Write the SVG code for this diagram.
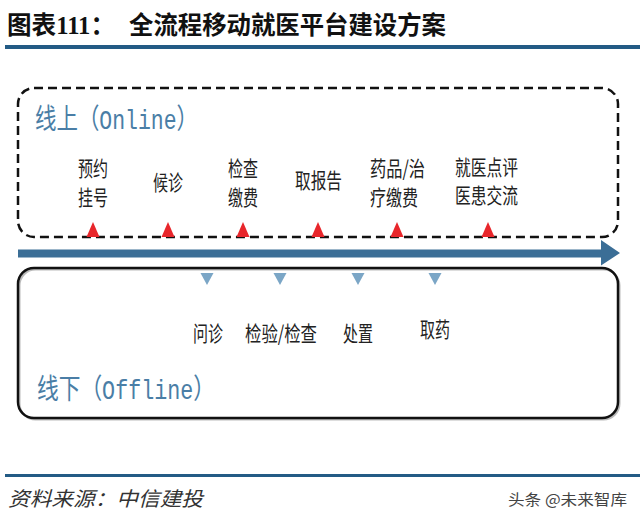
<svg xmlns="http://www.w3.org/2000/svg" width="640" height="519" viewBox="0 0 640 519">
<style>
.title{font-family:"Noto Sans CJK SC","Liberation Sans",sans-serif;font-size:25px;font-weight:bold;fill:#111}
.num{font-family:"Liberation Serif","Noto Sans CJK SC",serif;font-weight:bold}
.big{font-family:"Liberation Mono","Noto Sans CJK SC",monospace;font-size:28px;fill:#4a7ea6}
.lbl{font-family:"Noto Sans CJK SC","Liberation Sans",sans-serif;font-size:21px;fill:#222}
.src{font-family:"Noto Sans CJK SC","Liberation Sans",sans-serif;font-size:20px;font-style:italic;fill:#333}
.wm{font-family:"Noto Sans CJK SC","Liberation Sans",sans-serif;font-size:15px;fill:#444}
.up{fill:#e8262b}
.down{fill:#7ba6c6}
</style>
<rect width="640" height="519" fill="#fff"/>
<g id="header">
<text class="title" x="7" y="34" textLength="108" lengthAdjust="spacingAndGlyphs"><tspan>图表</tspan><tspan class="num">111</tspan><tspan>：</tspan></text>
<text class="title" x="129" y="34" textLength="317" lengthAdjust="spacingAndGlyphs">全流程移动就医平台建设方案</text>
<rect x="5" y="45" width="635" height="4" fill="#235b85"/>
</g>
<g id="online">
<rect x="18" y="88" width="600" height="149" rx="16" fill="none" stroke="#111" stroke-width="2.5" stroke-dasharray="9 5"/>
<text class="big" x="35" y="129" textLength="163" lengthAdjust="spacingAndGlyphs">线上（Online）</text>
</g>
<g id="offline">
<rect x="19.5" y="269.5" width="600" height="150" rx="16" fill="none" stroke="#bbb" stroke-width="2"/>
<rect x="18" y="268" width="600" height="150" rx="16" fill="none" stroke="#111" stroke-width="2.5"/>
<text class="big" x="37" y="399" textLength="178" lengthAdjust="spacingAndGlyphs">线下（Offline）</text>
</g>
<g id="connectors">
<polygon points="18,249.5 601,249.5 601,240 620,253 601,265.5 601,257.5 18,257.5" fill="#3b6e96"/>
</g>
<g id="online-steps">
<g id="step-guahao"><text class="lbl" x="78" y="176" textLength="30" lengthAdjust="spacingAndGlyphs">预约</text><text class="lbl" x="78" y="205" textLength="30" lengthAdjust="spacingAndGlyphs">挂号</text><polygon class="up" points="93,222 99.5,237 86.5,237"/></g>
<g id="step-houzhen"><text class="lbl" x="153" y="190" textLength="30" lengthAdjust="spacingAndGlyphs">候诊</text><polygon class="up" points="168,222 174.5,237 161.5,237"/></g>
<g id="step-jiaofei"><text class="lbl" x="228" y="176" textLength="30" lengthAdjust="spacingAndGlyphs">检查</text><text class="lbl" x="228" y="205" textLength="30" lengthAdjust="spacingAndGlyphs">缴费</text><polygon class="up" points="243,222 249.5,237 236.5,237"/></g>
<g id="step-baogao"><text class="lbl" x="295" y="188" textLength="47" lengthAdjust="spacingAndGlyphs">取报告</text><polygon class="up" points="318,222 324.5,237 311.5,237"/></g>
<g id="step-yaopin"><text class="lbl" x="370" y="176" textLength="55" lengthAdjust="spacingAndGlyphs">药品/治</text><text class="lbl" x="370" y="205" textLength="48" lengthAdjust="spacingAndGlyphs">疗缴费</text><polygon class="up" points="397,222 403.5,237 390.5,237"/></g>
<g id="step-dianping"><text class="lbl" x="455" y="175" textLength="63" lengthAdjust="spacingAndGlyphs">就医点评</text><text class="lbl" x="455" y="203" textLength="63" lengthAdjust="spacingAndGlyphs">医患交流</text><polygon class="up" points="488,222 494.5,237 481.5,237"/></g>
</g>
<g id="offline-steps">
<g id="step-wenzhen"><polygon class="down" points="200.5,273 213.5,273 207,285"/><text class="lbl" x="193" y="341" textLength="30" lengthAdjust="spacingAndGlyphs">问诊</text></g>
<g id="step-jianyan"><polygon class="down" points="273.5,273 286.5,273 280,285"/><text class="lbl" x="245" y="341" textLength="72" lengthAdjust="spacingAndGlyphs">检验/检查</text></g>
<g id="step-chuzhi"><polygon class="down" points="351.5,273 364.5,273 358,285"/><text class="lbl" x="343" y="341" textLength="30" lengthAdjust="spacingAndGlyphs">处置</text></g>
<g id="step-quyao"><polygon class="down" points="428.5,273 441.5,273 435,285"/><text class="lbl" x="420" y="337" textLength="30" lengthAdjust="spacingAndGlyphs">取药</text></g>
</g>
<g id="footer">
<rect x="5" y="474" width="635" height="3" fill="#235b85"/>
<text class="src" x="8" y="506" textLength="195" lengthAdjust="spacingAndGlyphs">资料来源：中信建投</text>
<text class="wm" x="508" y="505" textLength="119" lengthAdjust="spacingAndGlyphs">头条 @未来智库</text>
</g>
</svg>
